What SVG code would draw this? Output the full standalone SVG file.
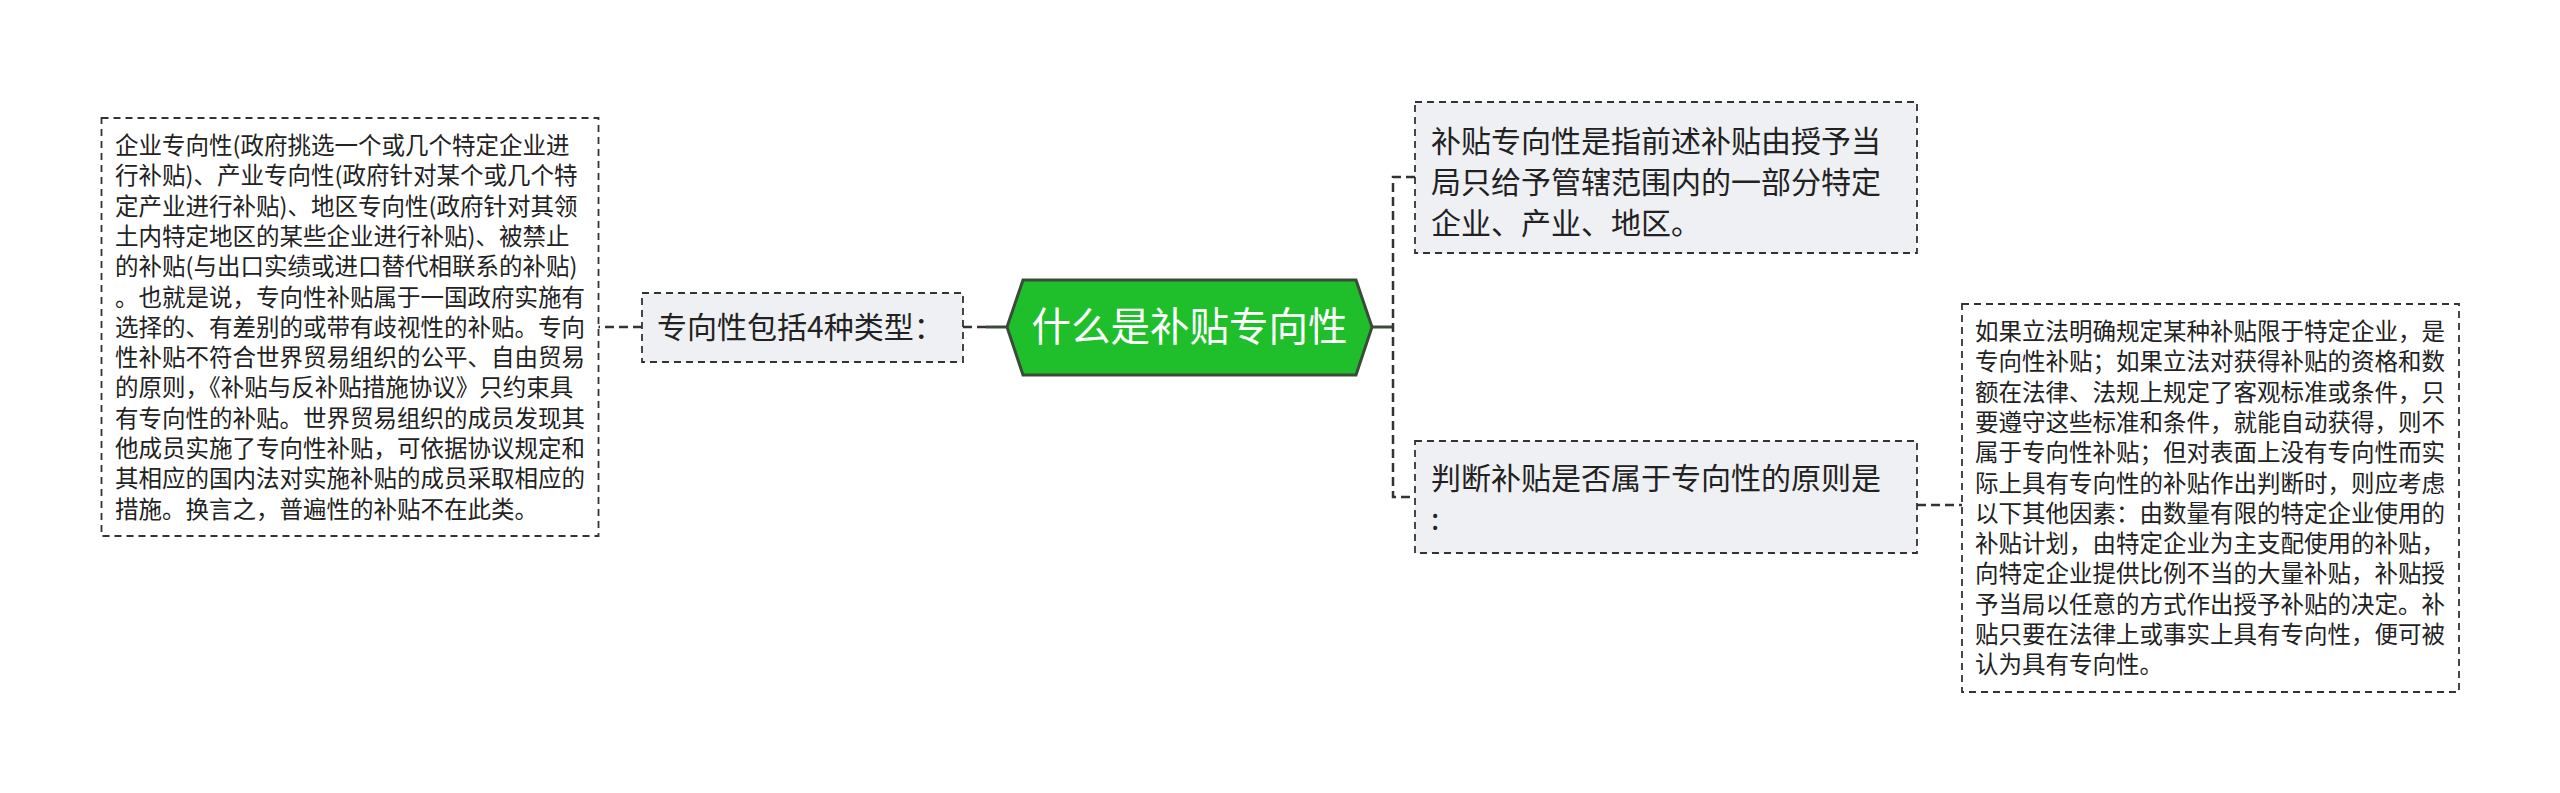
<svg xmlns="http://www.w3.org/2000/svg" width="2560" height="793" viewBox="0 0 2560 793">
<style>
.box{stroke:#333;stroke-width:1.8;stroke-dasharray:7 5}
.grey{fill:#eef0f3}
.white{fill:#ffffff}
.t{font-family:"Noto Sans CJK SC","Microsoft YaHei",sans-serif;fill:#222}
.s{font-size:23.5px}
.m{font-size:30px}
.c{stroke:#333;stroke-width:2.5;fill:none;stroke-dasharray:9 5}
.solid{stroke:#3b4b3b;stroke-width:3;fill:none}
</style>
<rect width="2560" height="793" fill="#ffffff"/>
<g id="connectors">
<path class="solid" d="M1007 327 H986"/>
<path class="c" d="M986 327 H963"/>
<path class="c" d="M642 327 H598"/>
<path class="solid" d="M1372 327 H1393"/>
<path class="c" d="M1415 177 H1393 V497 H1415"/>
<path class="c" d="M1917 505 H1962"/>
</g>
<g id="root">
<polygon points="1007,327 1023,280 1356,280 1372,327 1356,375 1023,375" fill="#1fbf2b" stroke="#3b4b3b" stroke-width="3"/>
<text x="1189.5" y="341" text-anchor="middle" font-family="Noto Sans CJK SC, sans-serif" font-size="39.5" fill="#ffffff">什么是补贴专向性</text>
</g>
<g id="types">
<rect class="box grey" x="642" y="293" width="321" height="69"/>
<text class="t m" x="657" y="338">专向性包括4种类型：</text>
</g>
<g id="types-detail">
<rect class="box white" x="101.5" y="118" width="497" height="418"/>
<text class="t s">
<tspan x="115" y="154">企业专向性(政府挑选一个或几个特定企业进</tspan>
<tspan x="115" y="184.3">行补贴)、产业专向性(政府针对某个或几个特</tspan>
<tspan x="115" y="214.6">定产业进行补贴)、地区专向性(政府针对其领</tspan>
<tspan x="115" y="244.9">土内特定地区的某些企业进行补贴)、被禁止</tspan>
<tspan x="115" y="275.2">的补贴(与出口实绩或进口替代相联系的补贴)</tspan>
<tspan x="115" y="305.5">。也就是说，专向性补贴属于一国政府实施有</tspan>
<tspan x="115" y="335.8">选择的、有差别的或带有歧视性的补贴。专向</tspan>
<tspan x="115" y="366.1">性补贴不符合世界贸易组织的公平、自由贸易</tspan>
<tspan x="115" y="396.4">的原则，《补贴与反补贴措施协议》只约束具</tspan>
<tspan x="115" y="426.7">有专向性的补贴。世界贸易组织的成员发现其</tspan>
<tspan x="115" y="457">他成员实施了专向性补贴，可依据协议规定和</tspan>
<tspan x="115" y="487.3">其相应的国内法对实施补贴的成员采取相应的</tspan>
<tspan x="115" y="517.6">措施。换言之，普遍性的补贴不在此类。</tspan>
</text>
</g>
<g id="definition">
<rect class="box grey" x="1415" y="102" width="502" height="151"/>
<text class="t m">
<tspan x="1431" y="152">补贴专向性是指前述补贴由授予当</tspan>
<tspan x="1431" y="193">局只给予管辖范围内的一部分特定</tspan>
<tspan x="1431" y="234">企业、产业、地区。</tspan>
</text>
</g>
<g id="principle">
<rect class="box grey" x="1415" y="441" width="502" height="112"/>
<text class="t m">
<tspan x="1431" y="489">判断补贴是否属于专向性的原则是</tspan>
<tspan x="1431" y="530">:</tspan>
</text>
</g>
<g id="principle-detail">
<rect class="box white" x="1962" y="304" width="497" height="388"/>
<text class="t s">
<tspan x="1975" y="340">如果立法明确规定某种补贴限于特定企业，是</tspan>
<tspan x="1975" y="370.3">专向性补贴；如果立法对获得补贴的资格和数</tspan>
<tspan x="1975" y="400.6">额在法律、法规上规定了客观标准或条件，只</tspan>
<tspan x="1975" y="430.9">要遵守这些标准和条件，就能自动获得，则不</tspan>
<tspan x="1975" y="461.2">属于专向性补贴；但对表面上没有专向性而实</tspan>
<tspan x="1975" y="491.5">际上具有专向性的补贴作出判断时，则应考虑</tspan>
<tspan x="1975" y="521.8">以下其他因素：由数量有限的特定企业使用的</tspan>
<tspan x="1975" y="552.1">补贴计划，由特定企业为主支配使用的补贴，</tspan>
<tspan x="1975" y="582.4">向特定企业提供比例不当的大量补贴，补贴授</tspan>
<tspan x="1975" y="612.7">予当局以任意的方式作出授予补贴的决定。补</tspan>
<tspan x="1975" y="643">贴只要在法律上或事实上具有专向性，便可被</tspan>
<tspan x="1975" y="673.3">认为具有专向性。</tspan>
</text>
</g>
</svg>
